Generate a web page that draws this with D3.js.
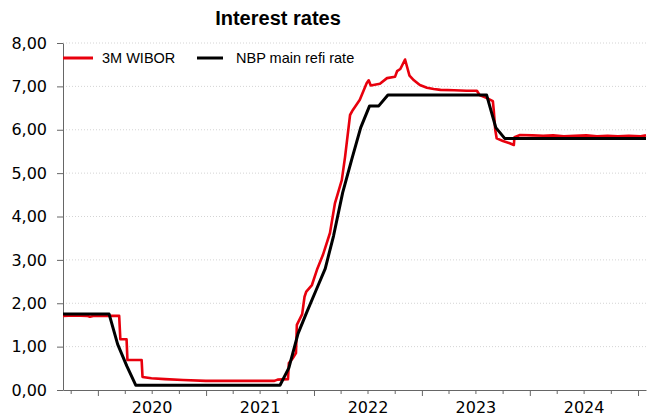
<!DOCTYPE html>
<html>
<head>
<meta charset="utf-8">
<script src="https://cdn.jsdelivr.net/npm/d3@7"></script>
<style>
  body { margin: 0; background: #fff; }
  svg { display: block; }
  .title { font: bold 20px "Liberation Sans", Arial, sans-serif; fill: #000; }
  .axis text { font: 16px "DejaVu Sans", Verdana, sans-serif; fill: #000; }
  .axis .domain, .axis line { stroke: #666; }
  .legend text { font: 14.5px "Liberation Sans", Arial, sans-serif; fill: #000; }
</style>
</head>
<body>
<svg id="chart" width="647" height="418"></svg>
<script>
const SERIES = ["3M WIBOR", "NBP main refi rate"];
const COLORS = ["#e8000d", "#000000"];
const Y_TICKS = [0, 1, 2, 3, 4, 5, 6, 7, 8];
const YEAR_LABELS = [2020, 2021, 2022, 2023, 2024];

// 3M WIBOR
const wibor = [
  ["2019-09-05", 1.71], ["2019-10-15", 1.72], ["2019-11-25", 1.71], ["2019-12-05", 1.69],
  ["2019-12-20", 1.71], ["2020-02-15", 1.71], ["2020-03-13", 1.71], ["2020-03-17", 1.17],
  ["2020-04-07", 1.17], ["2020-04-10", 0.69], ["2020-05-28", 0.69], ["2020-05-31", 0.30],
  ["2020-06-30", 0.27], ["2020-08-15", 0.25], ["2020-10-15", 0.23], ["2020-12-31", 0.21],
  ["2021-08-20", 0.21], ["2021-08-31", 0.24], ["2021-10-05", 0.25], ["2021-10-08", 0.62],
  ["2021-10-20", 0.72], ["2021-11-01", 0.85], ["2021-11-04", 1.50], ["2021-11-15", 1.65],
  ["2021-11-22", 1.75], ["2021-11-30", 2.15], ["2021-12-06", 2.27], ["2021-12-25", 2.42],
  ["2022-01-11", 2.77], ["2022-01-31", 3.11], ["2022-02-24", 3.62], ["2022-03-13", 4.31],
  ["2022-04-05", 4.84], ["2022-04-16", 5.37], ["2022-05-03", 6.34], ["2022-05-12", 6.45],
  ["2022-06-05", 6.69], ["2022-06-28", 7.07], ["2022-07-05", 7.14], ["2022-07-12", 7.02],
  ["2022-08-12", 7.06], ["2022-09-05", 7.19], ["2022-10-02", 7.22], ["2022-10-09", 7.35],
  ["2022-10-20", 7.40], ["2022-11-05", 7.62], ["2022-11-20", 7.25], ["2022-12-05", 7.14],
  ["2022-12-25", 7.03], ["2023-01-18", 6.97], ["2023-02-10", 6.94], ["2023-03-05", 6.92],
  ["2023-04-20", 6.91], ["2023-06-01", 6.90], ["2023-07-06", 6.90], ["2023-07-15", 6.80],
  ["2023-08-09", 6.73], ["2023-08-29", 6.66], ["2023-09-01", 6.45], ["2023-09-06", 6.00],
  ["2023-09-11", 5.80], ["2023-10-02", 5.74], ["2023-10-25", 5.69], ["2023-11-08", 5.65],
  ["2023-11-10", 5.83], ["2023-11-29", 5.88], ["2024-01-10", 5.87], ["2024-02-15", 5.86],
  ["2024-03-20", 5.87], ["2024-04-25", 5.85], ["2024-06-01", 5.86], ["2024-07-10", 5.87],
  ["2024-08-15", 5.85], ["2024-09-20", 5.86], ["2024-10-25", 5.85], ["2024-12-01", 5.86],
  ["2025-01-10", 5.85], ["2025-01-28", 5.87]
];

// NBP rate, monthly points
const refi = [
  ["2019-09-05", 1.75], ["2020-02-08", 1.75], ["2020-03-08", 1.05], ["2020-04-08", 0.55],
  ["2020-05-08", 0.11], ["2021-09-08", 0.11], ["2021-10-08", 0.51], ["2021-11-08", 1.30],
  ["2021-12-08", 1.80], ["2022-01-08", 2.30], ["2022-02-08", 2.80], ["2022-03-08", 3.55],
  ["2022-04-08", 4.55], ["2022-05-08", 5.30], ["2022-06-08", 6.05], ["2022-07-08", 6.55],
  ["2022-08-08", 6.55], ["2022-09-08", 6.80], ["2023-08-08", 6.80], ["2023-09-08", 6.05],
  ["2023-10-08", 5.80], ["2025-01-28", 5.80]
];

const parse = d3.timeParse("%Y-%m-%d");
const svg = d3.select("#chart");

const margin = { left: 63, right: 646, top: 43, bottom: 390 };

const x = d3.scaleTime()
  .domain([parse("2019-09-05"), parse("2025-01-28")])
  .range([margin.left, margin.right]);

const y = d3.scaleLinear()
  .domain([0, 8])
  .range([margin.bottom, margin.top]);

// title
svg.append("text")
  .attr("class", "title")
  .attr("x", 278)
  .attr("y", 25)
  .attr("text-anchor", "middle")
  .text("Interest rates");

// dotted grid
svg.append("g")
  .selectAll("line")
  .data(Y_TICKS.filter(d => d > 0))
  .join("line")
  .attr("x1", margin.left)
  .attr("x2", margin.right)
  .attr("y1", d => y(d))
  .attr("y2", d => y(d))
  .attr("stroke", "#d4d4d4")
  .attr("stroke-dasharray", "1,2");

// y axis
const fmt = d => d3.format(".2f")(d).replace(".", ",");
svg.append("g")
  .attr("class", "axis")
  .attr("transform", `translate(${margin.left},0)`)
  .call(d3.axisLeft(y).tickValues(Y_TICKS).tickSize(6).tickSizeOuter(0).tickPadding(10).tickFormat(fmt));

// x axis: quarter ticks, longer at year start
const quarters = d3.timeMonth.every(3).range(x.domain()[0], x.domain()[1]);
const xg = svg.append("g")
  .attr("class", "axis")
  .attr("transform", `translate(0,${margin.bottom})`)
  .call(d3.axisBottom(x).tickValues(quarters).tickSize(4).tickSizeOuter(0).tickFormat(""));
xg.selectAll(".tick line")
  .attr("y2", d => d.getMonth() === 0 ? 6 : 4);

// year labels in the middle of each year
const lg = svg.append("g")
  .attr("class", "axis")
  .attr("transform", `translate(0,${margin.bottom})`)
  .call(d3.axisBottom(x)
    .tickValues(YEAR_LABELS.map(yr => new Date(yr, 6, 1)))
    .tickSize(0)
    .tickPadding(12)
    .tickFormat(d3.timeFormat("%Y")));
lg.select(".domain").remove();

// lines
const line = d3.line()
  .x(d => x(parse(d[0])))
  .y(d => y(d[1]));

svg.append("path")
  .datum(wibor)
  .attr("fill", "none")
  .attr("stroke", COLORS[0])
  .attr("stroke-width", 2.6)
  .attr("stroke-linejoin", "round")
  .attr("d", line);

svg.append("path")
  .datum(refi)
  .attr("fill", "none")
  .attr("stroke", COLORS[1])
  .attr("stroke-width", 3)
  .attr("stroke-linejoin", "round")
  .attr("d", line);

// legend
const legendX = [63, 197];
const legend = svg.append("g").attr("class", "legend");
SERIES.forEach((name, i) => {
  legend.append("line")
    .attr("x1", legendX[i])
    .attr("x2", legendX[i] + (i === 0 ? 30 : 26))
    .attr("y1", 58)
    .attr("y2", 58)
    .attr("stroke", COLORS[i])
    .attr("stroke-width", 3);
  legend.append("text")
    .attr("x", legendX[i] + 39)
    .attr("y", 63)
    .text(name);
});
</script>
</body>
</html>
